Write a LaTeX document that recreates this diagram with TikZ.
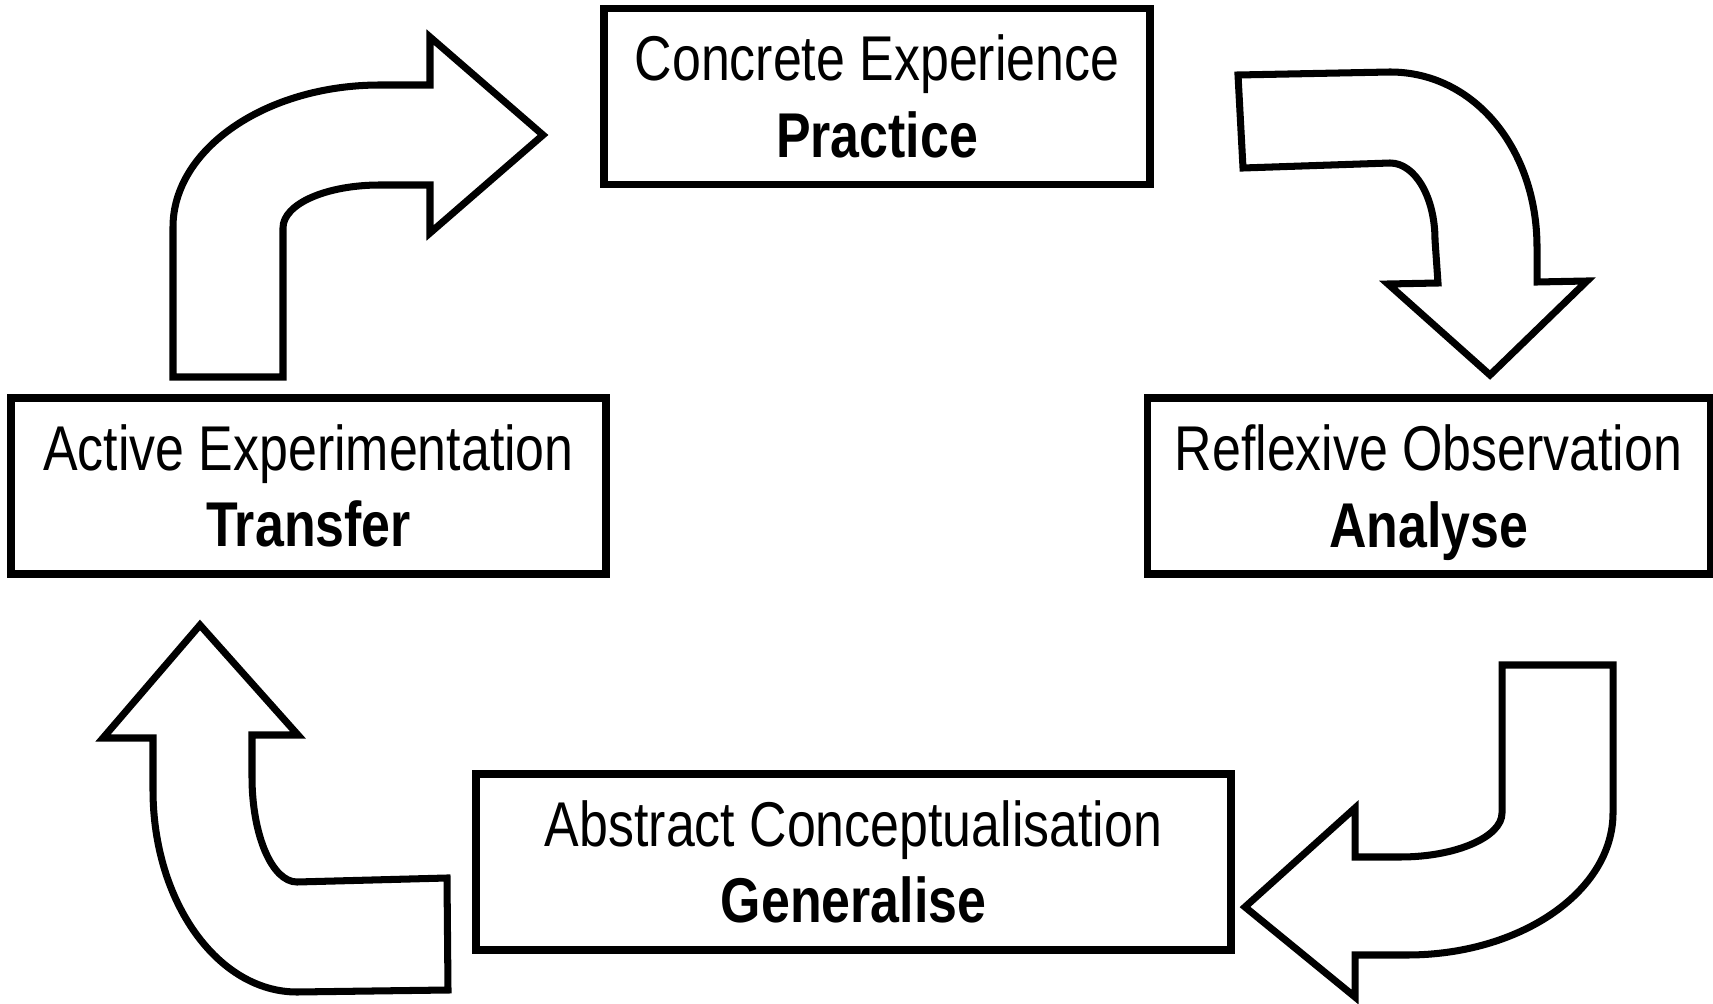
\documentclass[tikz,border=0pt]{standalone}
\usepackage{fontspec}
\setmainfont{Liberation Sans}[FakeStretch=0.82]
\usepackage{tikz}
\usetikzlibrary{positioning}

\begin{document}
\begin{tikzpicture}[x=0.1mm, y=-0.1mm,
  stage/.style={draw, line width=2pt, align=center, inner sep=0pt,
    minimum height=17.6mm, font=\fontsize{18}{21.8}\selectfont},
  flow/.style={draw, line width=2pt, fill=white}]
  \useasboundingbox (0,0) rectangle (1713,1004);
  % the four stages
  \node[stage, minimum width=54.6mm] (practice) at (877,96.5)
    {Concrete Experience\\ \textbf{Practice}};
  \node[stage, minimum width=56.3mm] (analyse) at (1428.5,486)
    {Reflexive Observation\\ \smash{\textbf{Analyse}}};
  \node[stage, minimum width=75.5mm] (generalise) at (853.5,862)
    {Abstract Conceptualisation\\ \textbf{Generalise}};
  \node[stage, minimum width=59.5mm] (transfer) at (308.5,486)
    {Active Experimentation\\ \textbf{Transfer}};
  % Transfer -> Practice
  \draw[flow] (173,377) -- (173,227) .. controls (173,149) and (266,85) .. (380,85)
    -- (430,85) -- (430,37) -- (543,135) -- (430,233) -- (430,185) -- (380,185)
    .. controls (326,185) and (283,204) .. (283,228) -- (283,377) -- cycle;
  % Practice -> Analyse
  \draw[flow] (1238,75) -- (1390,72) .. controls (1475,72) and (1537,150) .. (1537,247)
    -- (1537,282) -- (1587,281) -- (1490,375) -- (1388,284) -- (1438,283)
    -- (1435,240) .. controls (1435,197) and (1415,163) .. (1390,163)
    -- (1243,168) -- cycle;
  % Analyse -> Generalise
  \draw[flow] (1502,665) -- (1613,665) -- (1613,813) .. controls (1613,891) and (1521,955) .. (1407,955)
    -- (1355,955) -- (1355,997) -- (1245,907) -- (1355,808) -- (1355,857) -- (1400,857)
    .. controls (1456,857) and (1502,837) .. (1502,813) -- cycle;
  % Generalise -> Transfer
  \draw[flow] (200,625) -- (298,735) -- (252,735) -- (252,777)
    .. controls (252,835) and (272,882) .. (297,882) -- (447,878) -- (448,990)
    -- (297,992) .. controls (218,992) and (153,902) .. (153,790)
    -- (153,738) -- (103,738) -- cycle;
\end{tikzpicture}
\end{document}
